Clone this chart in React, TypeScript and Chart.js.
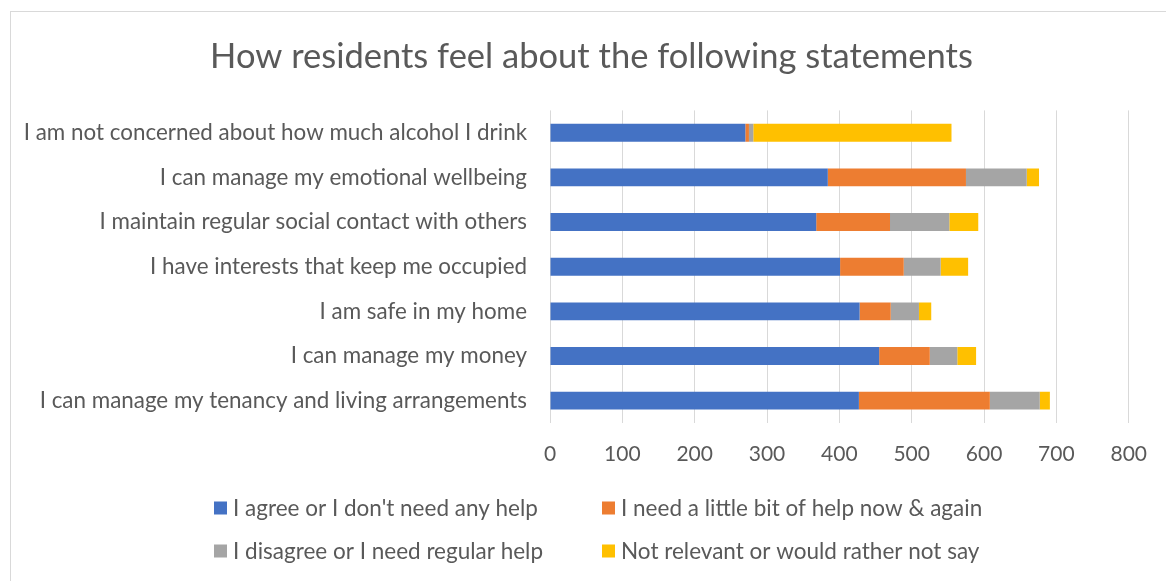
import React, { useEffect, useRef } from "react";
import { Chart, registerables } from "chart.js";

Chart.register(...registerables);

const categories = [
  "I am not concerned about how much alcohol I drink",
  "I can manage my emotional wellbeing",
  "I maintain regular social contact with others",
  "I have interests that keep me occupied",
  "I am safe in my home",
  "I can manage my money",
  "I can manage my tenancy and living arrangements",
];

const seriesNames = [
  "I agree or I don't need any help",
  "I need a little bit of help now & again",
  "I disagree or I need regular help",
  "Not relevant or would rather not say",
];

const agree = [270, 384, 368, 401, 428, 455, 427];
const littleHelp = [5, 191, 102, 88, 43, 70, 181];
const regularHelp = [6, 84, 82, 51, 39, 38, 69];
const notRelevant = [274, 17, 40, 38, 17, 26, 14];

const xTicks = [0, 100, 200, 300, 400, 500, 600, 700, 800];

const colors = ["#4472C4", "#ED7D31", "#A5A5A5", "#FFC000"];
const FONT = "Lato, 'Open Sans', sans-serif";
const TEXT = "#595959";

const legendPlugin = {
  id: "gridLegend",
  afterLayout(chart: any) {
    const t = chart.titleBlock;
    if (t) {
      t.left = 43;
      t.right = 1118;
    }
  },
  afterDraw(chart: any) {
    const ctx = chart.ctx;
    const ds = chart.data.datasets;
    const cols = [203, 591];
    const rows = [496, 539];
    ctx.save();
    ctx.font = `22.5px ${FONT}`;
    ctx.textBaseline = "middle";
    ctx.textAlign = "left";
    ds.forEach((d: any, i: number) => {
      const x = cols[i % 2];
      const y = rows[Math.floor(i / 2)];
      ctx.fillStyle = d.backgroundColor;
      ctx.fillRect(x, y - 6.5, 13, 13);
      ctx.fillStyle = TEXT;
      ctx.fillText(d.label, x + 19, y + 1);
    });
    ctx.restore();
  },
};

export default function App() {
  const ref = useRef<HTMLCanvasElement>(null);
  useEffect(() => {
    if (!ref.current) return;
    const values = [agree, littleHelp, regularHelp, notRelevant];
    const chart = new Chart(ref.current, {
      type: "bar",
      data: {
        labels: categories,
        datasets: values.map((v, i) => ({
          label: seriesNames[i],
          data: v,
          backgroundColor: colors[i],
          borderWidth: 0,
          categoryPercentage: 1,
          barPercentage: 0.4,
        })),
      },
      options: {
        indexAxis: "y",
        responsive: false,
        animation: false,
        devicePixelRatio: 1,
        layout: { padding: { left: 0, right: 37, top: 0, bottom: 98 } },
        plugins: {
          legend: { display: false },
          tooltip: { enabled: false },
          title: {
            display: true,
            text: "How residents feel about the following statements",
            color: TEXT,
            font: { family: FONT, size: 34.5, weight: "normal" },
            padding: { top: 24, bottom: 33 },
          },
        },
        scales: {
          x: {
            stacked: true,
            min: 0,
            max: 800,
            afterBuildTicks(scale: any) {
              scale.ticks = xTicks.map((v) => ({ value: v }));
            },
            afterFit(scale: any) {
              scale.height = 60;
            },
            grid: { color: "#D9D9D9", lineWidth: 1, drawTicks: false },
            border: { display: false },
            ticks: {
              color: TEXT,
              font: { family: FONT, size: 21 },
              padding: 19,
            },
          },
          y: {
            stacked: true,
            afterFit(scale: any) {
              scale.width = 539;
            },
            grid: { display: false, drawTicks: false },
            border: { display: false },
            ticks: {
              color: TEXT,
              font: { family: FONT, size: 22.4 },
              padding: 23,
              autoSkip: false,
            },
          },
        },
      },
      plugins: [legendPlugin],
    });
    return () => chart.destroy();
  }, []);

  return (
    <div
      style={{
        position: "fixed",
        left: 10,
        top: 11,
        width: 1200,
        height: 620,
        border: "1px solid #D9D9D9",
        background: "#fff",
        overflow: "hidden",
      }}
    >
      <canvas ref={ref} width={1155} height={569} style={{ display: "block" }} />
    </div>
  );
}
